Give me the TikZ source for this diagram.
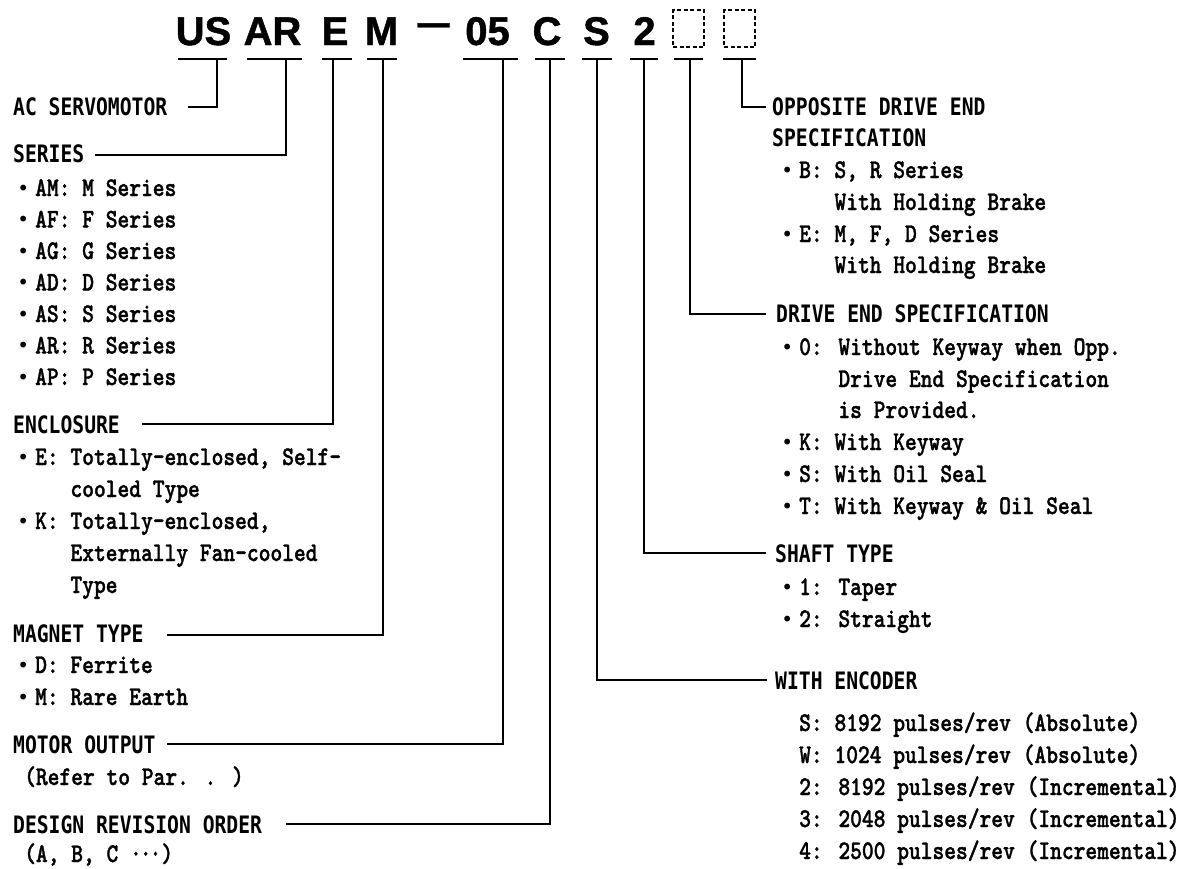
\documentclass[tikz,border=0pt]{standalone}
\usepackage{fontspec}
\newfontfamily\titlef{Liberation Sans}[FakeBold=1.2]
\newfontfamily\headf{DejaVu Sans Mono}[FakeStretch=0.82]
\newfontfamily\bodyf{lmmonolt10-bold}[Extension=.otf,FakeStretch=0.83,FakeBold=1.2]
\newfontfamily\symf{DejaVu Sans}
\newcommand\bl{\llap{{\symf\fontsize{20}{20}\selectfont\raisebox{1pt}{•}}\hspace{6pt}}}
\begin{document}
\begin{tikzpicture}[x=1pt,y=-1pt,
  ttl/.style={font={\titlef\bfseries\fontsize{40}{40}\selectfont}, inner sep=0pt, anchor=base},
  hd/.style={font={\headf\bfseries\fontsize{24}{24}\selectfont}, inner sep=0pt, anchor=base west},
  bd/.style={font={\bodyf\fontsize{27}{27}\selectfont}, inner sep=0pt, anchor=base west},
  conn/.style={line width=2.7pt},
  ubar/.style={line width=2.8pt},
  dbox/.style={draw, line width=1.3pt, dash pattern=on 4pt off 2.5pt, minimum width=31pt, minimum height=37pt, inner sep=0pt},
]
\fill[white] (0,0) rectangle (1183,868);
\useasboundingbox (0,0) rectangle (1183,868);

% ---- model code ----
\node[ttl] (tUS) at (203.5,45) {US};
\node[ttl] (tAR) at (272.5,45) {AR};
\node[ttl] (tE)  at (335,45) {E};
\node[ttl] (tM)  at (381.5,45) {M};
\node[ttl] (tD)  at (433.5,45) {\raisebox{9pt}{\scalebox{0.8}[1]{—}}};
\node[ttl] (t05) at (487.5,45) {05};
\node[ttl] (tC)  at (547,45) {C};
\node[ttl] (tS)  at (596.5,45) {S};
\node[ttl] (t2)  at (644.5,45) {2};
\node[dbox] (bx1) at (688.5,28.5) {};
\node[dbox] (bx2) at (739.5,28.5) {};

% ---- underlines ----
\foreach \n/\a/\b/\s in {US/178/227/217, AR/247/302/286, E/322/352/333, M/367/397/383,
  O/463/518/503, C/535/565/550, S/582/612/597, T/630/658/644, X/674/703/690, Y/723/756/742}{
  \coordinate (u\n l) at (\a,59);
  \coordinate (u\n r) at (\b,59);
  \coordinate (s\n) at (\s,59);
  \draw[ubar] (u\n l) -- (u\n r);
}

% ---- left column ----
\node[hd] (hAC) at (13,115) {AC SERVOMOTOR};
\node[hd] (hSER) at (13,162) {SERIES};
\node[bd] (ser1) at (35,196) {\bl AM: M Series};
\node[bd] (ser2) at (35,227.5) {\bl AF: F Series};
\node[bd] (ser3) at (35,259) {\bl AG: G Series};
\node[bd] (ser4) at (35,290.5) {\bl AD: D Series};
\node[bd] (ser5) at (35,322) {\bl AS: S Series};
\node[bd] (ser6) at (35,353.5) {\bl AR: R Series};
\node[bd] (ser7) at (35,385) {\bl AP: P Series};

\node[hd] (hENC) at (13,433) {ENCLOSURE};
\node[bd] (enc1) at (35,465) {\bl E: Totally-enclosed, Self-};
\node[bd] (enc2) at (35,497) {\hphantom{E: }cooled Type};
\node[bd] (enc3) at (35,529) {\bl K: Totally-enclosed,};
\node[bd] (enc4) at (35,561) {\hphantom{K: }Externally Fan-cooled};
\node[bd] (enc5) at (35,593) {\hphantom{K: }Type};

\node[hd] (hMAG) at (13,642) {MAGNET TYPE};
\node[bd] (mag1) at (35,673) {\bl D: Ferrite};
\node[bd] (mag2) at (35,705) {\bl M: Rare Earth};

\node[hd] (hMOT) at (13,753) {MOTOR OUTPUT};
\node[bd] (mot1) at (24,785) {(Refer to Par. . )};

\node[hd] (hDES) at (13,833) {DESIGN REVISION ORDER};
\node[bd] (des1) at (24,862) {(A, B, C ·\kern-2pt·\kern-2pt·)};

% ---- right column ----
\node[hd] (hOPP) at (772,115) {OPPOSITE DRIVE END};
\node[hd] (hOPP2) at (772,146) {SPECIFICATION};
\node[bd] (opp1) at (799,178) {\bl B: S, R Series};
\node[bd] (opp2) at (799,210) {\hphantom{B: }With Holding Brake};
\node[bd] (opp3) at (799,242) {\bl E: M, F, D Series};
\node[bd] (opp4) at (799,273) {\hphantom{E: }With Holding Brake};

\node[hd] (hDRV) at (776,322) {DRIVE END SPECIFICATION};
\node[bd] (drv1) at (799,355) {\bl 0: Without Keyway when Opp.};
\node[bd] (drv2) at (799,387) {\hphantom{0: }Drive End Specification};
\node[bd] (drv3) at (799,418) {\hphantom{0: }is Provided.};
\node[bd] (drv4) at (799,450) {\bl K: With Keyway};
\node[bd] (drv5) at (799,482) {\bl S: With Oil Seal};
\node[bd] (drv6) at (799,514) {\bl T: With Keyway \& Oil Seal};

\node[hd] (hSHF) at (775,562) {SHAFT TYPE};
\node[bd] (shf1) at (799,595) {\bl 1: Taper};
\node[bd] (shf2) at (799,627) {\bl 2: Straight};

\node[hd] (hENCD) at (775,689) {WITH ENCODER};
\node[bd] (ecd1) at (799,731) {S: 8192 pulses/rev (Absolute)};
\node[bd] (ecd2) at (799,763) {W: 1024 pulses/rev (Absolute)};
\node[bd] (ecd3) at (799,795) {2: 8192 pulses/rev (Incremental)};
\node[bd] (ecd4) at (799,827) {3: 2048 pulses/rev (Incremental)};
\node[bd] (ecd5) at (799,859) {4: 2500 pulses/rev (Incremental)};

% ---- connector ends ----
\coordinate (eAC)  at (188,107);
\coordinate (eSER) at (95,155);
\coordinate (eENC) at (142,424);
\coordinate (eMAG) at (167,635);
\coordinate (eMOT) at (167,744);
\coordinate (eDES) at (286,824);
\coordinate (eENCD) at (767,680);
\coordinate (eSHF) at (766,553);
\coordinate (eDRV) at (766,314);
\coordinate (eOPP) at (766,107);

\draw[conn] (sUS) |- (eAC);
\draw[conn] (sAR) |- (eSER);
\draw[conn] (sE)  |- (eENC);
\draw[conn] (sM)  |- (eMAG);
\draw[conn] (sO)  |- (eMOT);
\draw[conn] (sC)  |- (eDES);
\draw[conn] (sS)  |- (eENCD);
\draw[conn] (sT)  |- (eSHF);
\draw[conn] (sX)  |- (eDRV);
\draw[conn] (sY)  |- (eOPP);
\end{tikzpicture}
\end{document}
